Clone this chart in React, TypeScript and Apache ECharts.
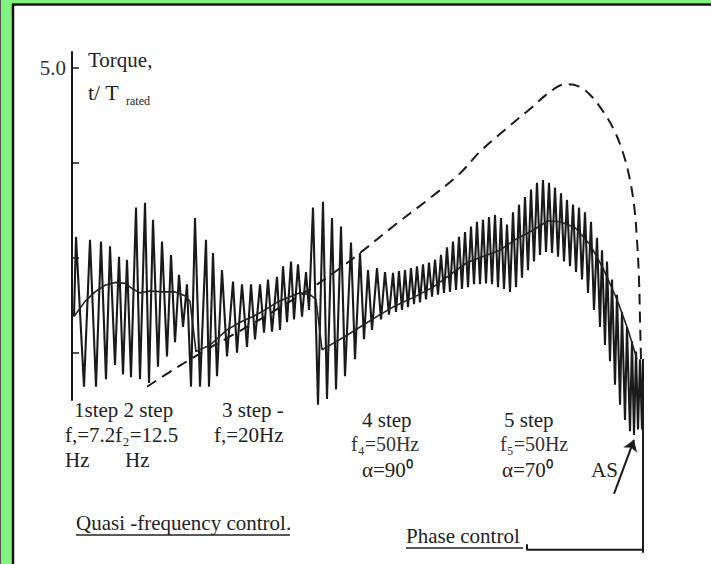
import React, { useEffect, useRef } from 'react';
import * as echarts from 'echarts';

// time axis in arbitrary units (0..580), torque in t/T_rated
const oscillation: [number, number][] = [
  [2, 2.38], [4, 3.22], [12, 1.64], [18, 3.19], [24, 1.64], [29, 3.17], [34, 1.72], [38, 3.12], [43, 1.87], [47, 3.01],
  [51, 1.77], [55, 2.98], [59, 1.74],
  [64, 3.53], [68, 1.72], [73, 3.58], [77, 1.68], [81, 3.40], [86, 1.85], [90, 3.17], [95, 1.96], [99, 3.03], [103, 2.11],
  [107, 2.82], [111, 2.27], [115, 2.72],
  [119, 1.64], [123, 3.42], [128, 1.64], [134, 3.19], [137, 1.64], [141, 3.05], [145, 1.75], [150, 2.87], [155, 1.96],
  [161, 2.75], [165, 2.00], [170, 2.72], [175, 2.06], [179, 2.72], [183, 2.14], [188, 2.72], [192, 2.21], [196, 2.77],
  [200, 2.22], [205, 2.80], [208, 2.24], [211, 2.91], [215, 2.32], [219, 2.96], [222, 2.35], [226, 2.93], [230, 2.38],
  [234, 2.85], [237, 2.45],
  [241, 3.53], [246, 1.45], [251, 3.59], [255, 1.51], [260, 3.42], [264, 1.61], [269, 3.33], [273, 1.75], [279, 3.16],
  [283, 1.93], [288, 3.05], [292, 2.14], [296, 2.87], [300, 2.24], [305, 2.89], [309, 2.35], [313, 2.85], [317, 2.40],
  [321, 2.84], [324, 2.43], [327, 2.86], [330, 2.45], [333, 2.87], [336, 2.48], [339, 2.89], [342, 2.51], [345, 2.91],
  [348, 2.53], [351, 2.93], [354, 2.56], [357, 2.95], [360, 2.59], [363, 2.98], [366, 2.61], [369, 3.03], [372, 2.63],
  [375, 3.11], [378, 2.64], [381, 3.17], [384, 2.66], [387, 3.22], [390, 2.67], [393, 3.27], [396, 2.69], [399, 3.33],
  [402, 2.72], [405, 3.38], [408, 2.72], [411, 3.40], [414, 2.73], [417, 3.43], [420, 2.72], [423, 3.45], [426, 2.69],
  [429, 3.42], [432, 2.67], [435, 3.35], [438, 2.64],
  [441, 3.48], [444, 2.69], [447, 3.56], [450, 2.79], [453, 3.64], [456, 2.87], [459, 3.72], [462, 2.96], [465, 3.79],
  [468, 3.03], [471, 3.82], [474, 3.06], [477, 3.79], [480, 3.05], [483, 3.74], [486, 3.01], [489, 3.68], [492, 2.96],
  [495, 3.61], [498, 2.91], [501, 3.56], [504, 2.85], [507, 3.53], [510, 2.77], [513, 3.48], [516, 2.63], [519, 3.38],
  [522, 2.45], [525, 3.21], [528, 2.27], [530, 3.08], [533, 2.08], [535, 2.96], [538, 1.91], [540, 2.77], [543, 1.66],
  [545, 2.61], [548, 1.45], [550, 2.43], [553, 1.29], [555, 2.27], [558, 1.17], [560, 2.12], [562, 1.13], [564, 2.01],
  [566, 1.19], [568, 1.93], [570, 1.19], [571, 1.93],
];

const meanTorque: [number, number][] = [
  [2, 2.38], [13, 2.54], [23, 2.64], [33, 2.71], [43, 2.74], [53, 2.73], [61, 2.67], [68, 2.63], [78, 2.65], [91, 2.64],
  [103, 2.64], [113, 2.60], [118, 2.54], [124, 2.01], [138, 2.08], [155, 2.24], [168, 2.32], [181, 2.38], [193, 2.45],
  [205, 2.53], [218, 2.59], [228, 2.63], [238, 2.61], [244, 2.56], [250, 2.03], [255, 2.06], [273, 2.17], [288, 2.27],
  [308, 2.40], [321, 2.48], [343, 2.59], [361, 2.69], [378, 2.82], [395, 2.95], [413, 3.02], [428, 3.08], [443, 3.19],
  [461, 3.29], [476, 3.39], [488, 3.38], [503, 3.32], [518, 3.14], [531, 2.89], [545, 2.56], [556, 2.24], [565, 1.93],
];

const staticTorque: [number, number][] = [
  [75, 1.64], [103, 1.83], [128, 1.99], [158, 2.17], [188, 2.35], [218, 2.54], [241, 2.69], [268, 2.89], [288, 3.05],
  [321, 3.33], [358, 3.63], [388, 3.89], [408, 4.12], [433, 4.35], [458, 4.57], [478, 4.75], [493, 4.83], [506, 4.81],
  [518, 4.72], [530, 4.56], [541, 4.37], [550, 4.14], [557, 3.87], [562, 3.56], [565, 3.19], [567, 2.77], [568, 2.35],
  [569, 1.93],
];

const cutOff: [number, number][] = [[571, 1.93], [571, -0.11]];
const phaseBracket: [number, number][] = [[455, -0.02], [455, -0.08], [571, -0.08]];
const asArrow: [number, number][] = [[542, 0.51], [562, 1.08]];

const yTicks = [2, 3, 4, 5];
const yLabels = [5];

const FONT = '"Liberation Serif", "Times New Roman", serif';
const INK = '#1a1a1a';

function txt(text: string, x: number, y: number, size = 21, fill = '#222') {
  return {
    type: 'text',
    x,
    y,
    style: { text, font: `${size}px ${FONT}`, fill, align: 'left', verticalAlign: 'middle' },
  };
}

export default function App() {
  const ref = useRef<HTMLDivElement>(null);
  useEffect(() => {
    if (!ref.current) return;
    const chart = echarts.init(ref.current, undefined, { renderer: 'svg' });
    const lineBase = { type: 'line', showSymbol: false, symbol: 'none', clip: false, silent: true };
    chart.setOption({
      animation: false,
      backgroundColor: '#ffffff',
      grid: { left: 72, top: 52, width: 580, height: 348, containLabel: false, outerBoundsMode: 'none' },
      xAxis: { type: 'value', min: 0, max: 580, show: false },
      yAxis: {
        type: 'value',
        min: 1.5,
        max: 5.17,
        axisLine: { show: true, lineStyle: { color: INK, width: 2 } },
        axisTick: { show: true, inside: true, length: 7, customValues: yTicks, lineStyle: { color: INK, width: 1.5 } },
        axisLabel: {
          show: true,
          customValues: yLabels,
          formatter: (v: number) => v.toFixed(1),
          color: '#333',
          fontFamily: FONT,
          fontSize: 21,
          margin: 6,
        },
        splitLine: { show: false },
      },
      series: [
        { ...lineBase, name: 'torque', data: oscillation, lineStyle: { color: INK, width: 2.1 }, z: 3 },
        { ...lineBase, name: 'mean', data: meanTorque, lineStyle: { color: '#222', width: 1.6 }, z: 4 },
        {
          ...lineBase,
          name: 'static',
          data: staticTorque,
          smooth: 0.35,
          lineStyle: { color: INK, width: 2, type: [11, 7] },
          z: 2,
        },
        { ...lineBase, name: 'cutoff', data: cutOff, lineStyle: { color: INK, width: 2 } },
        { ...lineBase, name: 'bracket', data: phaseBracket, lineStyle: { color: INK, width: 2 } },
        {
          type: 'lines',
          coordinateSystem: 'cartesian2d',
          clip: false,
          symbol: ['none', 'arrow'],
          symbolSize: 11,
          silent: true,
          lineStyle: { color: INK, width: 2, opacity: 1 },
          data: [{ coords: asArrow }],
        },
      ],
      graphic: [
        { type: 'rect', shape: { x: 0, y: 0, width: 12, height: 564 }, style: { fill: '#82f282' }, z: 100 },
        { type: 'rect', shape: { x: 0, y: 0, width: 711, height: 3 }, style: { fill: '#82f282' }, z: 100 },
        { type: 'line', shape: { x1: 0.5, y1: 0, x2: 0.5, y2: 564 }, style: { stroke: '#555', lineWidth: 1 }, z: 101 },
        { type: 'line', shape: { x1: 13, y1: 4, x2: 13, y2: 564 }, style: { stroke: '#111', lineWidth: 2.5 }, z: 101 },
        { type: 'line', shape: { x1: 12, y1: 4.5, x2: 711, y2: 4.5 }, style: { stroke: '#111', lineWidth: 2.5 }, z: 101 },
        txt('Torque,', 88, 60),
        txt('t/ T', 88, 92, 22),
        txt('rated', 126, 101, 12),
        txt('1step 2 step', 74, 410),
        txt('3 step -', 222, 410),
        txt('f,=7.2f₂=12.5', 65, 435),
        txt('f,=20Hz', 214, 435),
        txt('Hz', 65, 460),
        txt('Hz', 125, 460),
        txt('4 step', 362, 420),
        txt('f₄=50Hz', 351, 444, 20, '#333'),
        txt('α=90⁰', 362, 470),
        txt('5 step', 504, 420),
        txt('f₅=50Hz', 500, 444, 20, '#333'),
        txt('α=70⁰', 502, 470),
        txt('AS', 591, 470),
        txt('Quasi -frequency control.', 76, 523),
        { type: 'line', shape: { x1: 76, y1: 535, x2: 290, y2: 535 }, style: { stroke: '#222', lineWidth: 1.5 } },
        txt('Phase control', 406, 536),
        { type: 'line', shape: { x1: 406, y1: 548, x2: 523, y2: 548 }, style: { stroke: '#222', lineWidth: 1.5 } },
      ],
    });
    return () => chart.dispose();
  }, []);
  return (
    <div
      ref={ref}
      style={{ position: 'absolute', left: 0, top: 0, width: 711, height: 564, background: '#fff' }}
    />
  );
}
